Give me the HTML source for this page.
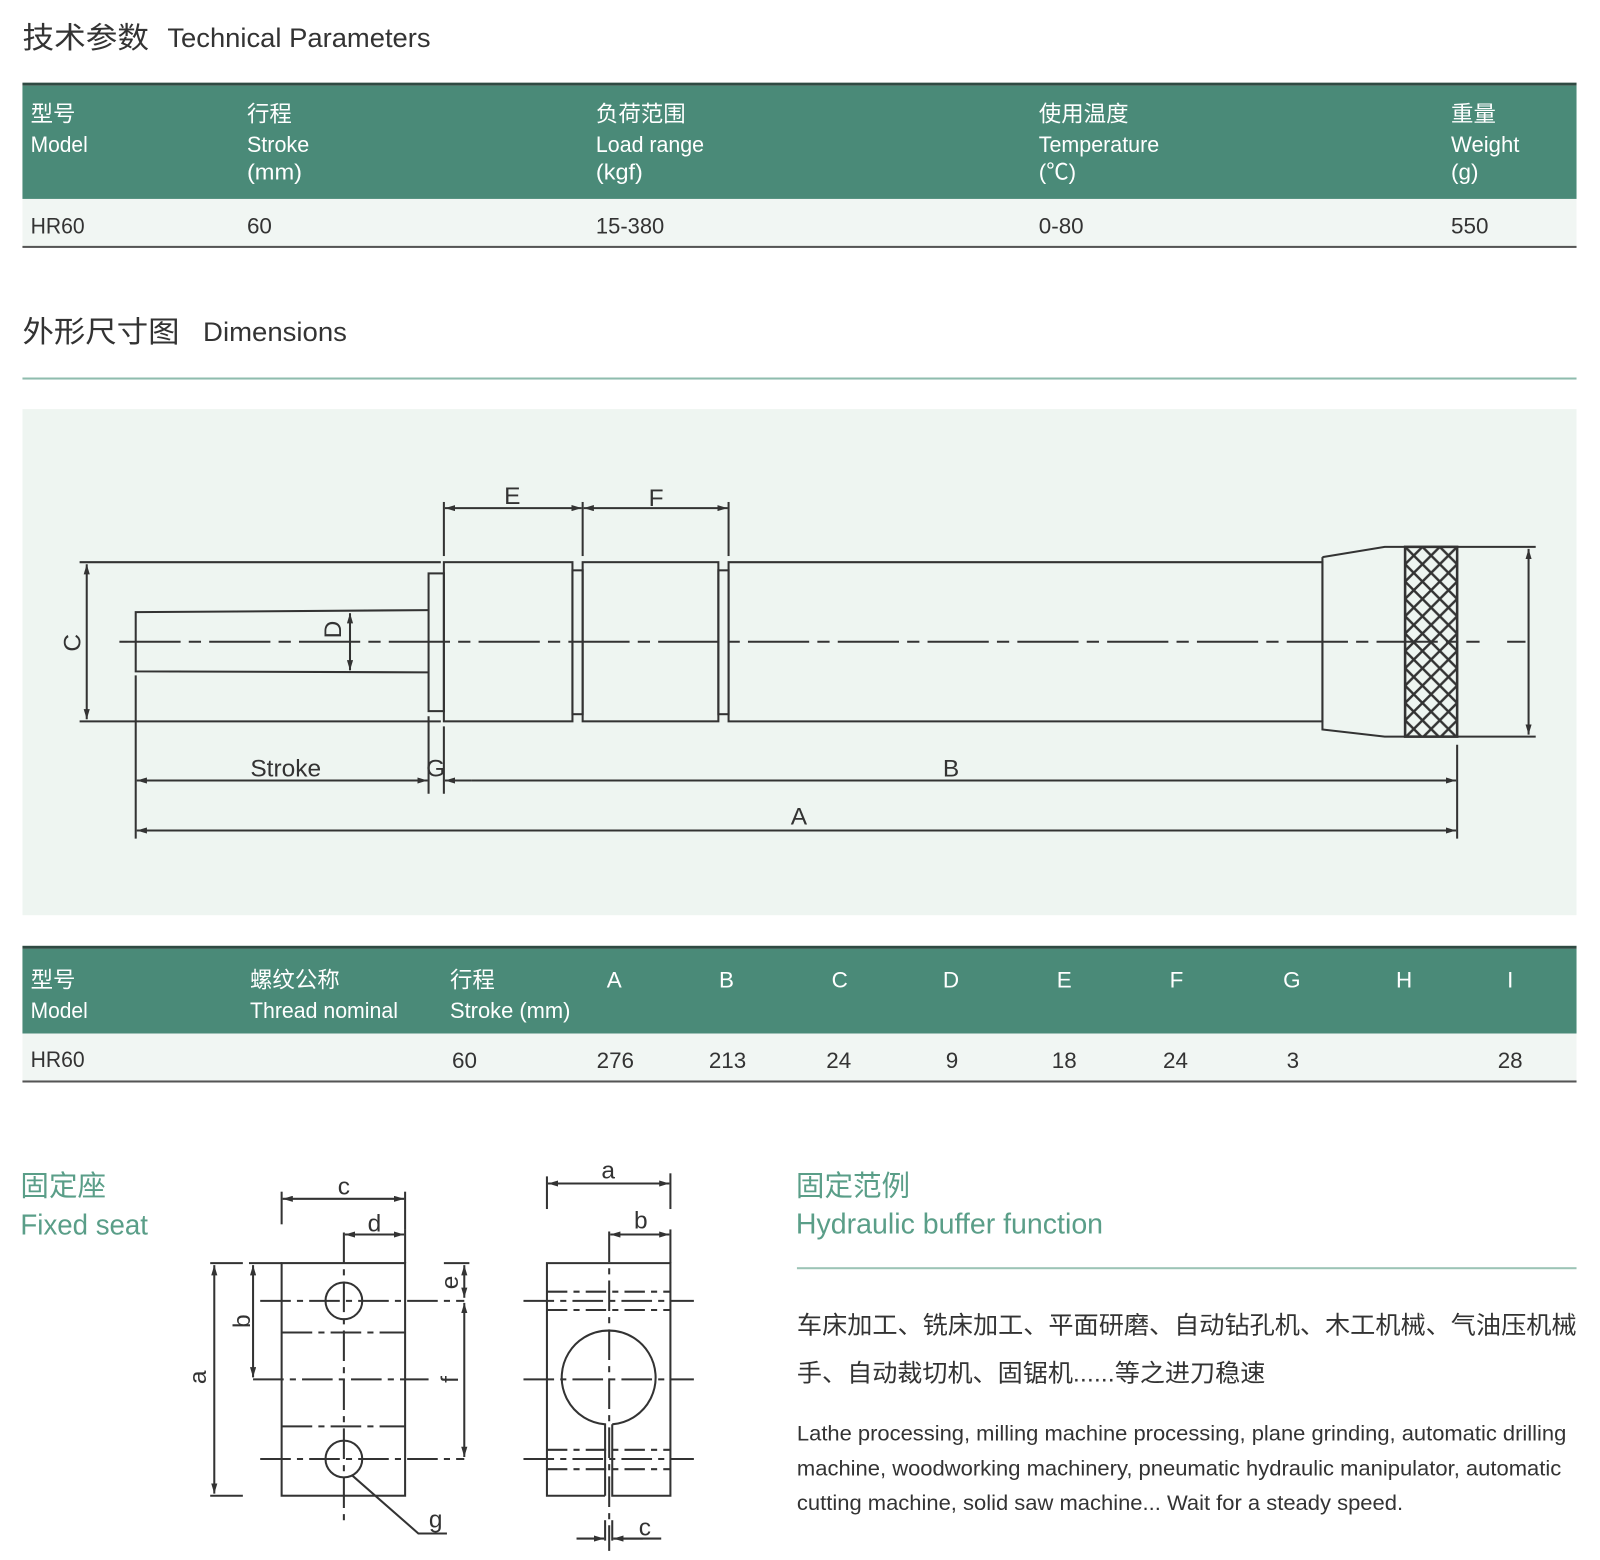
<!DOCTYPE html>
<html><head><meta charset="utf-8"><style>
html,body{margin:0;padding:0;background:#fff;width:1600px;height:1560px;overflow:hidden}
svg{display:block}
text{font-family:"Liberation Sans","Noto Sans CJK SC",sans-serif}
</style></head><body>
<svg width="1600" height="1560" viewBox="0 0 1568 1529" preserveAspectRatio="none" xmlns="http://www.w3.org/2000/svg">
<defs>
<marker id="ar" viewBox="0 0 10 6" refX="10" refY="3" markerWidth="10" markerHeight="6" orient="auto-start-reverse" markerUnits="userSpaceOnUse"><path d="M0,0 L10,3 L0,6 z" fill="#333"/></marker>
<pattern id="kn" width="17" height="17" patternUnits="userSpaceOnUse" x="1377" y="536"><path d="M0,0 L17,17 M17,0 L0,17" stroke="#333" stroke-width="2.4"/></pattern>
</defs>
<g fill="#333">
<text x="22" y="47" font-size="29" textLength="124" lengthAdjust="spacingAndGlyphs">技术参数</text>
<text x="164" y="46" font-size="26" textLength="258" lengthAdjust="spacingAndGlyphs">Technical Parameters</text>
</g>
<rect x="22" y="81" width="1523" height="3" fill="#2f4a42"/>
<rect x="22" y="84" width="1523" height="111" fill="#4a8a78"/>
<rect x="22" y="195" width="1523" height="47" fill="#f1f6f3"/>
<rect x="22" y="241" width="1523" height="2" fill="#555"/>
<g fill="#fff" font-size="22">
<text x="30" y="119">型号</text><text x="30" y="149" textLength="56" lengthAdjust="spacingAndGlyphs">Model</text>
<text x="242" y="119">行程</text><text x="242" y="149" textLength="61" lengthAdjust="spacingAndGlyphs">Stroke</text><text x="242" y="176" textLength="54" lengthAdjust="spacingAndGlyphs">(mm)</text>
<text x="584" y="119">负荷范围</text><text x="584" y="149" textLength="106" lengthAdjust="spacingAndGlyphs">Load range</text><text x="584" y="176" textLength="46" lengthAdjust="spacingAndGlyphs">(kgf)</text>
<text x="1018" y="119">使用温度</text><text x="1018" y="149" textLength="118" lengthAdjust="spacingAndGlyphs">Temperature</text><text x="1018" y="176">(℃)</text>
<text x="1422" y="119">重量</text><text x="1422" y="149" textLength="67" lengthAdjust="spacingAndGlyphs">Weight</text><text x="1422" y="176">(g)</text>
</g>
<g fill="#333" font-size="22">
<text x="30" y="229" textLength="53" lengthAdjust="spacingAndGlyphs">HR60</text>
<text x="242" y="229">60</text><text x="584" y="229" textLength="67" lengthAdjust="spacingAndGlyphs">15-380</text>
<text x="1018" y="229" textLength="44" lengthAdjust="spacingAndGlyphs">0-80</text><text x="1422" y="229">550</text>
</g>
<g fill="#333">
<text x="22" y="335" font-size="29" textLength="154" lengthAdjust="spacingAndGlyphs">外形尺寸图</text>
<text x="199" y="334" font-size="26" textLength="141" lengthAdjust="spacingAndGlyphs">Dimensions</text>
</g>
<rect x="22" y="370" width="1523" height="2" fill="#8fbcae"/>
<rect x="22" y="401" width="1523" height="496" fill="#eef5f1"/>
<g stroke="#333" stroke-width="2" fill="none">
<line x1="78" y1="551" x2="432" y2="551"/><line x1="78" y1="707" x2="432" y2="707"/>
<line x1="85" y1="553" x2="85" y2="705" marker-start="url(#ar)" marker-end="url(#ar)"/>
<path d="M420,598 L133,600 L133,658 L420,659"/>
<rect x="420" y="562" width="15" height="135"/>
<rect x="435" y="551" width="126" height="156"/>
<rect x="561" y="559" width="10" height="141"/>
<rect x="571" y="551" width="133" height="156"/>
<rect x="704" y="559" width="10" height="141"/>
<path d="M714,551 L1296,551 L1296,707 L714,707 Z"/>
<path d="M1296,546 L1357,536 L1505,536 M1296,546 L1296,715 L1357,722 L1505,722"/>
<rect x="1377" y="536" width="51" height="186" fill="url(#kn)" stroke-width="2.5"/>
<line x1="1498" y1="538" x2="1498" y2="720" marker-start="url(#ar)" marker-end="url(#ar)"/>
<line x1="117" y1="629" x2="1450" y2="629" stroke-dasharray="60,8,12,8"/>
<line x1="1477" y1="629" x2="1495" y2="629"/>
<line x1="343" y1="601" x2="343" y2="657" marker-start="url(#ar)" marker-end="url(#ar)"/>
<line x1="435" y1="492" x2="435" y2="545"/><line x1="571" y1="492" x2="571" y2="545"/><line x1="714" y1="492" x2="714" y2="545"/>
<line x1="436" y1="498" x2="570" y2="498" marker-start="url(#ar)" marker-end="url(#ar)"/>
<line x1="572" y1="498" x2="713" y2="498" marker-start="url(#ar)" marker-end="url(#ar)"/>
<line x1="133" y1="662" x2="133" y2="822"/><line x1="420" y1="702" x2="420" y2="778"/><line x1="435" y1="712" x2="435" y2="778"/><line x1="1428" y1="730" x2="1428" y2="822"/>
<line x1="134" y1="765" x2="419" y2="765" marker-start="url(#ar)" marker-end="url(#ar)"/>
<line x1="436" y1="765" x2="462" y2="765" marker-start="url(#ar)"/>
<line x1="462" y1="765" x2="1427" y2="765" marker-end="url(#ar)"/>
<line x1="134" y1="814" x2="1427" y2="814" marker-start="url(#ar)" marker-end="url(#ar)"/>
</g>
<g fill="#333" font-size="24">
<text x="502" y="494" text-anchor="middle">E</text>
<text x="643" y="496" text-anchor="middle">F</text>
<text x="280" y="761" text-anchor="middle">Stroke</text>
<text x="427" y="761" text-anchor="middle">G</text>
<text x="932" y="761" text-anchor="middle">B</text>
<text x="783" y="808" text-anchor="middle">A</text>
<text transform="translate(79,630) rotate(-90)" text-anchor="middle">C</text>
<text transform="translate(334,617) rotate(-90)" text-anchor="middle">D</text>
</g>
<rect x="22" y="927" width="1523" height="3" fill="#2f4a42"/>
<rect x="22" y="930" width="1523" height="83" fill="#4a8a78"/>
<rect x="22" y="1013" width="1523" height="47" fill="#f1f6f3"/>
<rect x="22" y="1059" width="1523" height="2" fill="#555"/>
<g fill="#fff" font-size="22">
<text x="30" y="968">型号</text><text x="30" y="998" textLength="56" lengthAdjust="spacingAndGlyphs">Model</text>
<text x="245" y="968">螺纹公称</text><text x="245" y="998" textLength="145" lengthAdjust="spacingAndGlyphs">Thread nominal</text>
<text x="441" y="968">行程</text><text x="441" y="998" textLength="118" lengthAdjust="spacingAndGlyphs">Stroke (mm)</text>
<g text-anchor="middle">
<text x="602" y="968">A</text><text x="712" y="968">B</text><text x="823" y="968">C</text><text x="932" y="968">D</text><text x="1043" y="968">E</text><text x="1153" y="968">F</text><text x="1266" y="968">G</text><text x="1376" y="968">H</text><text x="1480" y="968">I</text>
</g></g>
<g fill="#333" font-size="22">
<text x="30" y="1046" textLength="53" lengthAdjust="spacingAndGlyphs">HR60</text>
<text x="443" y="1047">60</text>
<g text-anchor="middle">
<text x="603" y="1047">276</text><text x="713" y="1047">213</text><text x="822" y="1047">24</text><text x="933" y="1047">9</text><text x="1043" y="1047">18</text><text x="1152" y="1047">24</text><text x="1267" y="1047">3</text><text x="1480" y="1047">28</text>
</g></g>
<g fill="#5a9e88">
<text x="20" y="1172" font-size="28">固定座</text>
<text x="20" y="1210" font-size="28" textLength="125" lengthAdjust="spacingAndGlyphs">Fixed seat</text>
<text x="780" y="1172" font-size="28">固定范例</text>
<text x="780" y="1209" font-size="28" textLength="301" lengthAdjust="spacingAndGlyphs">Hydraulic buffer function</text>
</g>
<rect x="781" y="1242" width="764" height="2" fill="#9cc4b6"/>
<g fill="#333">
<text x="781" y="1307" font-size="24" textLength="764" lengthAdjust="spacingAndGlyphs">车床加工、铣床加工、平面研磨、自动钻孔机、木工机械、气油压机械</text>
<text x="781" y="1354" font-size="24" textLength="459" lengthAdjust="spacingAndGlyphs">手、自动裁切机、固锯机......等之进刀稳速</text>
<text x="781" y="1412" font-size="21" textLength="754" lengthAdjust="spacingAndGlyphs">Lathe processing, milling machine processing, plane grinding, automatic drilling</text>
<text x="781" y="1446" font-size="21" textLength="749" lengthAdjust="spacingAndGlyphs">machine, woodworking machinery, pneumatic hydraulic manipulator, automatic</text>
<text x="781" y="1480" font-size="21" textLength="594" lengthAdjust="spacingAndGlyphs">cutting machine, solid saw machine... Wait for a steady speed.</text>
</g>
<g stroke="#333" stroke-width="2" fill="none">
<rect x="276" y="1238" width="121" height="228"/>
<circle cx="337" cy="1275" r="18"/><circle cx="337" cy="1430" r="18"/>
<line x1="337" y1="1208" x2="337" y2="1494" stroke-dasharray="30,6,6,6"/>
<line x1="255" y1="1275" x2="455" y2="1275" stroke-dasharray="30,6,6,6"/>
<line x1="248" y1="1352" x2="420" y2="1352" stroke-dasharray="30,6,6,6"/>
<line x1="255" y1="1430" x2="455" y2="1430" stroke-dasharray="30,6,6,6"/>
<line x1="276" y1="1306" x2="397" y2="1306" stroke-dasharray="30,6,6,6"/>
<line x1="276" y1="1398" x2="397" y2="1398" stroke-dasharray="30,6,6,6"/>
<line x1="206" y1="1238" x2="238" y2="1238"/><line x1="206" y1="1466" x2="238" y2="1466"/>
<line x1="210" y1="1240" x2="210" y2="1464" marker-start="url(#ar)" marker-end="url(#ar)"/>
<line x1="244" y1="1238" x2="276" y2="1238"/>
<line x1="248" y1="1240" x2="248" y2="1350" marker-start="url(#ar)" marker-end="url(#ar)"/>
<line x1="435" y1="1238" x2="460" y2="1238"/>
<line x1="455" y1="1240" x2="455" y2="1272" marker-start="url(#ar)" marker-end="url(#ar)"/>
<line x1="455" y1="1277" x2="455" y2="1428" marker-start="url(#ar)" marker-end="url(#ar)"/>
<line x1="276" y1="1168" x2="276" y2="1200"/><line x1="397" y1="1168" x2="397" y2="1205"/>
<line x1="277" y1="1175" x2="396" y2="1175" marker-start="url(#ar)" marker-end="url(#ar)"/>
<line x1="397" y1="1205" x2="397" y2="1238"/>
<line x1="338" y1="1210" x2="396" y2="1210" marker-start="url(#ar)" marker-end="url(#ar)"/>
<path d="M345,1446 L410,1503 L438,1503"/>
<path d="M593,1466 L536,1466 L536,1238 L657,1238 L657,1466 L600,1466 L600,1396"/>
<path d="M593,1466 L593,1396 A46,46 0 1 1 600,1396"/>
<line x1="597" y1="1207" x2="597" y2="1520" stroke-dasharray="30,6,6,6"/>
<line x1="513" y1="1275" x2="680" y2="1275" stroke-dasharray="30,6,6,6"/>
<line x1="513" y1="1352" x2="680" y2="1352" stroke-dasharray="30,6,6,6"/>
<line x1="513" y1="1430" x2="680" y2="1430" stroke-dasharray="30,6,6,6"/>
<line x1="536" y1="1266" x2="657" y2="1266" stroke-dasharray="20,6,6,6"/>
<line x1="536" y1="1284" x2="657" y2="1284" stroke-dasharray="20,6,6,6"/>
<line x1="536" y1="1421" x2="657" y2="1421" stroke-dasharray="20,6,6,6"/>
<line x1="536" y1="1440" x2="657" y2="1440" stroke-dasharray="20,6,6,6"/>
<line x1="536" y1="1153" x2="536" y2="1185"/><line x1="657" y1="1150" x2="657" y2="1185"/>
<line x1="537" y1="1160" x2="656" y2="1160" marker-start="url(#ar)" marker-end="url(#ar)"/>
<line x1="657" y1="1205" x2="657" y2="1238"/>
<line x1="598" y1="1210" x2="656" y2="1210" marker-start="url(#ar)" marker-end="url(#ar)"/>
<line x1="593" y1="1490" x2="593" y2="1510"/><line x1="600" y1="1490" x2="600" y2="1510"/>
<line x1="565" y1="1508" x2="592" y2="1508" marker-end="url(#ar)"/>
<line x1="630" y1="1508" x2="601" y2="1508" marker-end="url(#ar)"/>
<line x1="601" y1="1508" x2="648" y2="1508"/>
</g>
<g fill="#333" font-size="24" text-anchor="middle">
<text x="337" y="1171">c</text><text x="367" y="1207">d</text><text x="427" y="1497">g</text>
<text x="596" y="1155">a</text><text x="628" y="1204">b</text><text x="632" y="1505">c</text>
<text transform="translate(202,1350) rotate(-90)">a</text>
<text transform="translate(245,1295) rotate(-90)">b</text>
<text transform="translate(449,1257) rotate(-90)">e</text>
<text transform="translate(449,1352) rotate(-90)">f</text>
</g>
</svg>
</body></html>
